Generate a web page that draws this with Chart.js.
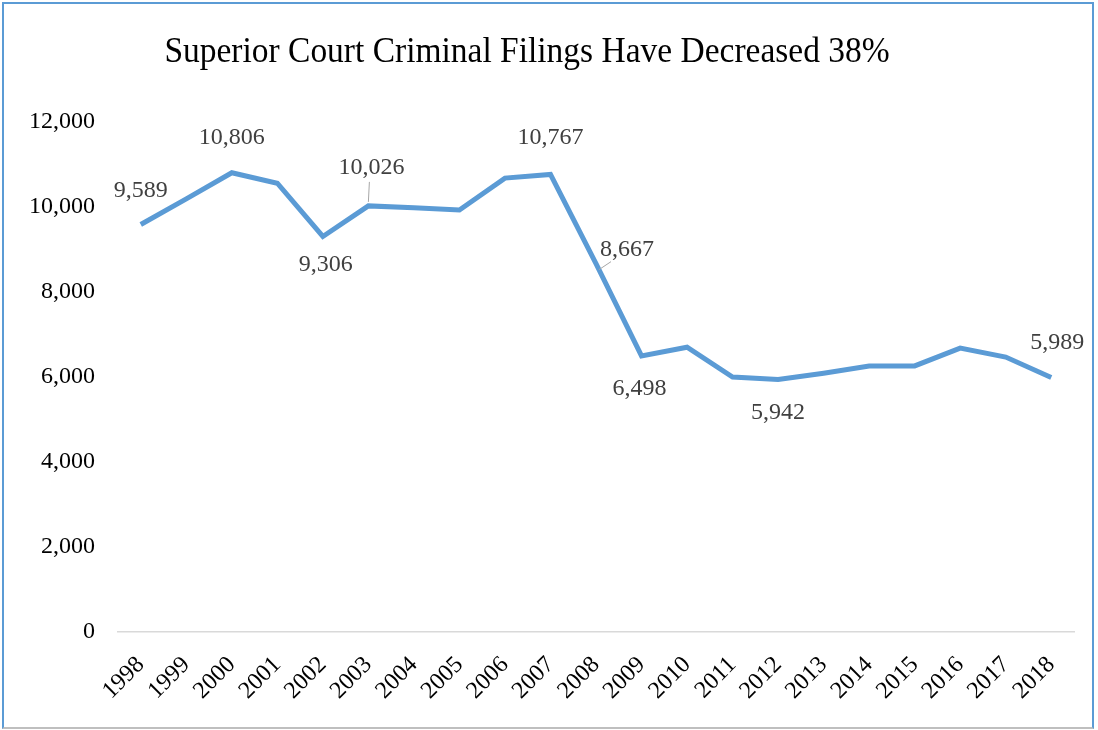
<!DOCTYPE html>
<html>
<head>
<meta charset="utf-8">
<script src="https://cdn.jsdelivr.net/npm/chart.js@4.4.1/dist/chart.umd.min.js"></script>
<style>
  html, body { margin: 0; padding: 0; background: #fff; }
  #wrap { position: relative; width: 1098px; height: 730px; }
  #frame {
    position: absolute; left: 2px; top: 2px; width: 1088px; height: 723px;
    border-top: 2px solid #5b9bd5; border-left: 2px solid #5b9bd5;
    border-right: 2px solid #5b9bd5; border-bottom: 2px solid #bfbfbf;
    pointer-events: none;
  }
  canvas { position: absolute; left: 0; top: 0; }
</style>
</head>
<body>
<div id="wrap">
  <canvas id="filingsChart" width="1098" height="730"></canvas>
  <div id="frame"></div>
</div>
<script>
// years and criminal filings
const years = ['1998','1999','2000','2001','2002','2003','2004','2005','2006','2007','2008',
               '2009','2010','2011','2012','2013','2014','2015','2016','2017','2018'];
const filings = [9589, 10190, 10806, 10560, 9306, 10026, 9980, 9930, 10680, 10767, 8667,
                 6498, 6700, 6000, 5942, 6090, 6260, 6260, 6680, 6470, 5989];
// which points carry a value label
const labelledYears = ['1998','2000','2002','2003','2007','2008','2009','2012','2018'];
const yTicks = [0, 2000, 4000, 6000, 8000, 10000, 12000];
const chartTitle = 'Superior Court Criminal Filings Have Decreased 38%';

// label placement relative to the point (dx, dy, leader line?)
const labelOffsets = {
    '1998': [0, -34], '2000': [0, -35], '2002': [3, 28], '2003': [3, -38, true],
    '2007': [0, -37], '2008': [31, -14, true], '2009': [-2, 33], '2012': [0, 33],
    '2018': [6, -35]
};

const serif = '"Liberation Serif", "Times New Roman", serif';

const titlePlugin = {
    id: 'titleText',
    afterDraw(c) {
        const ctx = c.ctx;
        ctx.save();
        ctx.font = '36px ' + serif;
        ctx.fillStyle = '#000';
        ctx.textAlign = 'center';
        ctx.textBaseline = 'alphabetic';
        // the original title is a little condensed
        ctx.translate(527, 62);
        ctx.scale(0.93, 1);
        ctx.fillText(chartTitle, 0, 0);
        ctx.restore();
    }
};

const valueLabels = {
    id: 'valueLabels',
    afterDatasetsDraw(c) {
        const ctx = c.ctx;
        const meta = c.getDatasetMeta(0);
        ctx.save();
        ctx.font = '24px ' + serif;
        ctx.fillStyle = '#404040';
        ctx.textAlign = 'center';
        ctx.textBaseline = 'middle';
        labelledYears.forEach(y => {
            const i = years.indexOf(y);
            const pt = meta.data[i];
            const off = labelOffsets[y];
            const lx = pt.x + off[0], ly = pt.y + off[1];
            if (off[2]) {
                ctx.strokeStyle = '#a6a6a6';
                ctx.lineWidth = 1;
                ctx.beginPath();
                if (off[0] > 20) {
                    ctx.moveTo(lx - 16, ly + 12);
                    ctx.lineTo(pt.x + 3, pt.y + 6);
                } else {
                    ctx.moveTo(lx - 2, ly + 14);
                    ctx.lineTo(pt.x, pt.y - 4);
                }
                ctx.stroke();
            }
            ctx.fillText(filings[i].toLocaleString('en-US'), lx, ly);
        });
        ctx.restore();
    }
};

new Chart(document.getElementById('filingsChart'), {
    type: 'line',
    data: {
        labels: years,
        datasets: [{
            data: filings,
            borderColor: '#5b9bd5',
            borderWidth: 5,
            pointRadius: 0,
            tension: 0,
            fill: false
        }]
    },
    options: {
        responsive: false,
        animation: false,
        layout: { padding: { top: 122, right: 24, bottom: 0, left: 0 } },
        plugins: { legend: { display: false }, tooltip: { enabled: false } },
        scales: {
            x: {
                offset: true,
                grid: { display: false, drawTicks: false },
                border: { display: true, color: '#d9d9d9', width: 1.5 },
                ticks: {
                    color: '#000',
                    font: { family: serif, size: 24 },
                    minRotation: 45, maxRotation: 45,
                    padding: 19
                },
                afterFit(s) { s.height = 98; }
            },
            y: {
                min: 0, max: 12000,
                afterBuildTicks(s) { s.ticks = yTicks.map(v => ({ value: v })); },
                grid: { display: false, drawTicks: false },
                border: { display: false },
                ticks: {
                    color: '#000',
                    font: { family: serif, size: 24 },
                    padding: 23,
                    callback: v => v.toLocaleString('en-US')
                },
                afterFit(s) { s.width = 118; }
            }
        }
    },
    plugins: [titlePlugin, valueLabels]
});
</script>
</body>
</html>
